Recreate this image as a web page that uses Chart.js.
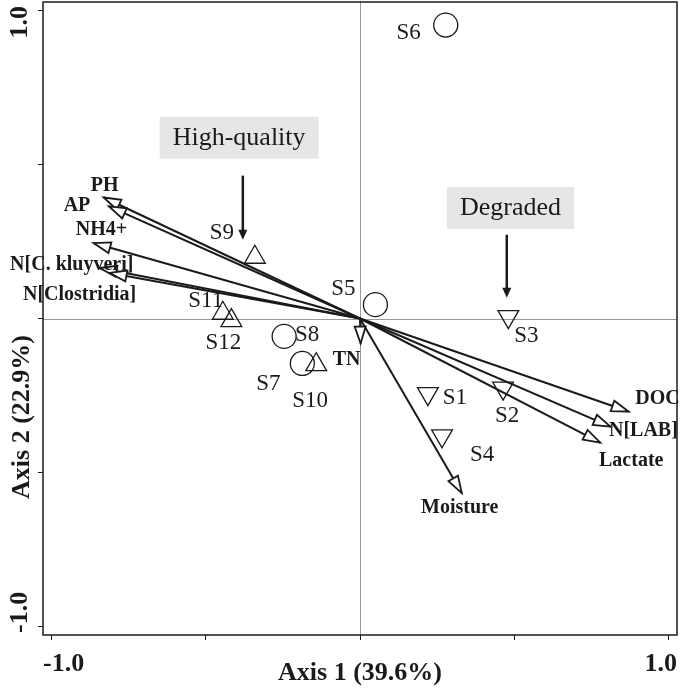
<!DOCTYPE html>
<html>
<head>
<meta charset="utf-8">
<script src="https://cdn.jsdelivr.net/npm/chart.js@4.4.0/dist/chart.umd.min.js"></script>
<style>
  html, body { margin: 0; padding: 0; background: #fff; }
  #wrap { width: 680px; height: 690px; }
</style>
</head>
<body>
<div id="wrap"><canvas id="chart" width="680" height="690"></canvas></div>
<script>
// sample scores on Axis 1 / Axis 2
const sampleNames = ['S1', 'S2', 'S3', 'S4', 'S5', 'S6', 'S7', 'S8', 'S9', 'S10', 'S11', 'S12'];
const sampleX = [0.220, 0.464, 0.481, 0.266, 0.050, 0.278, -0.187, -0.246, -0.341, -0.142, -0.445, -0.417];
const sampleY = [-0.244, -0.226, 0.006, -0.381, 0.045, 0.953, -0.146, -0.058, 0.199, -0.150, 0.017, -0.007];
const sampleGroup = ['deg', 'deg', 'deg', 'deg', 'mid', 'mid', 'mid', 'mid', 'hq', 'hq', 'hq', 'hq'];

// environmental variables (arrow tips)
const varNames = ['PH', 'AP', 'NH4+', 'N[C. kluyveri]', 'N[Clostridia]', 'TN', 'Moisture', 'DOC', 'N[LAB]', 'Lactate'];
const varX = [-0.831, -0.814, -0.864, -0.844, -0.812, 0.002, 0.330, 0.871, 0.812, 0.779];
const varY = [0.393, 0.364, 0.245, 0.164, 0.148, -0.081, -0.567, -0.302, -0.351, -0.403];

const tickValues = [-1, -0.5, 0, 0.5, 1];
const tickLabels = ['-1.0', '', '', '', '1.0'];
const axisTitles = ['Axis 1 (39.6%)', 'Axis 2 (22.9%)'];

// group callouts
const noteText = ['High-quality', 'Degraded'];
const noteX = [-0.392, 0.488];
const noteY = [0.587, 0.359];
const noteArrowX = [-0.380, 0.476];
const noteArrowFrom = [0.464, 0.272];
const noteArrowTo = [0.256, 0.067];

// label nudges in pixels, relative to the mark
const sampleLabelOffset = {
  S1: [27, 4], S2: [4, 28], S3: [18, 19], S4: [40, 19], S5: [-32, -16], S6: [-37, 8],
  S7: [-34, 21], S8: [23, -1], S9: [-33, -24], S10: [-6, 36], S11: [-17, -12], S12: [-8, 22]
};
const varLabelOffset = {
  'PH': [1, -12], 'AP': [-32, -1], 'NH4+': [8, -13], 'N[C. kluyveri]': [-28, -3],
  'N[Clostridia]': [-30, 22], 'TN': [-14, 16], 'Moisture': [-2, 15],
  'DOC': [29, -13], 'N[LAB]': [33, 4], 'Lactate': [31, 18]
};

const SERIF = '"Liberation Serif", "Times New Roman", serif';
const INK = '#1a1a1a';

const arrowSets = varNames.map((name, i) => ({
  label: name,
  isArrow: true,
  showLine: true,
  data: [{ x: 0, y: 0 }, { x: varX[i], y: varY[i] }],
  borderColor: INK,
  borderWidth: 2,
  pointRadius: 0
}));

function groupSet(group, style, rotation) {
  const idx = sampleNames.map((_, i) => i).filter(i => sampleGroup[i] === group);
  return {
    label: group,
    data: idx.map(i => ({ x: sampleX[i], y: sampleY[i], name: sampleNames[i] })),
    pointStyle: style,
    pointRotation: rotation,
    pointRadius: 12,
    pointBorderWidth: 1.3,
    pointBorderColor: INK,
    pointBackgroundColor: 'rgba(0,0,0,0)'
  };
}

const biplotDecor = {
  id: 'biplotDecor',
  beforeDatasetsDraw(chart) {
    const { ctx, chartArea: a, scales: { x, y } } = chart;
    ctx.save();
    // zero lines
    ctx.strokeStyle = '#9a9a9a';
    ctx.lineWidth = 1;
    const x0 = Math.round(x.getPixelForValue(0)) + 0.5;
    const y0 = Math.round(y.getPixelForValue(0)) + 0.5;
    ctx.beginPath();
    ctx.moveTo(x0, a.top); ctx.lineTo(x0, a.bottom);
    ctx.moveTo(a.left, y0); ctx.lineTo(a.right, y0);
    ctx.stroke();

    // callout boxes with arrows
    ctx.font = '26px ' + SERIF;
    noteText.forEach((t, i) => {
      const cx = x.getPixelForValue(noteX[i]);
      const cy = y.getPixelForValue(noteY[i]);
      const w = ctx.measureText(t).width + 26;
      const h = 42;
      ctx.fillStyle = '#e6e6e6';
      ctx.fillRect(cx - w / 2, cy - h / 2, w, h);
      ctx.fillStyle = INK;
      ctx.textAlign = 'center';
      ctx.textBaseline = 'middle';
      ctx.fillText(t, cx, cy);

      const ax = x.getPixelForValue(noteArrowX[i]);
      const ay1 = y.getPixelForValue(noteArrowFrom[i]);
      const ay2 = y.getPixelForValue(noteArrowTo[i]);
      ctx.strokeStyle = INK;
      ctx.lineWidth = 2.5;
      ctx.beginPath();
      ctx.moveTo(ax, ay1); ctx.lineTo(ax, ay2 - 6);
      ctx.stroke();
      ctx.beginPath();
      ctx.moveTo(ax, ay2);
      ctx.lineTo(ax - 4.5, ay2 - 10);
      ctx.lineTo(ax + 4.5, ay2 - 10);
      ctx.closePath();
      ctx.fill();
    });
    ctx.restore();
  },
  afterDatasetsDraw(chart) {
    const { ctx, data } = chart;
    ctx.save();
    // open arrow heads
    data.datasets.forEach((ds, i) => {
      if (!ds.isArrow) return;
      const pts = chart.getDatasetMeta(i).data;
      const p0 = pts[0], p1 = pts[1];
      const ang = Math.atan2(p1.y - p0.y, p1.x - p0.x);
      const L = 17, hw = 5.5;
      const bx = p1.x - L * Math.cos(ang), by = p1.y - L * Math.sin(ang);
      ctx.beginPath();
      ctx.moveTo(p1.x, p1.y);
      ctx.lineTo(bx - hw * Math.sin(ang), by + hw * Math.cos(ang));
      ctx.lineTo(bx + hw * Math.sin(ang), by - hw * Math.cos(ang));
      ctx.closePath();
      ctx.fillStyle = '#fff';
      ctx.fill();
      ctx.strokeStyle = INK;
      ctx.lineWidth = 1.8;
      ctx.stroke();

      const off = varLabelOffset[ds.label] || [0, 0];
      ctx.font = 'bold 20px ' + SERIF;
      ctx.fillStyle = INK;
      ctx.textAlign = 'center';
      ctx.textBaseline = 'middle';
      ctx.fillText(ds.label, p1.x + off[0], p1.y + off[1]);
    });

    // sample labels
    ctx.font = '23px ' + SERIF;
    ctx.fillStyle = INK;
    ctx.textAlign = 'center';
    ctx.textBaseline = 'middle';
    data.datasets.forEach((ds, i) => {
      if (ds.isArrow) return;
      const pts = chart.getDatasetMeta(i).data;
      ds.data.forEach((d, j) => {
        const off = sampleLabelOffset[d.name] || [0, 0];
        ctx.fillText(d.name, pts[j].x + off[0], pts[j].y + off[1]);
      });
    });
    ctx.restore();
  },
  afterDraw(chart) {
    const { ctx, chartArea: a, scales: { x, y } } = chart;
    ctx.save();
    ctx.strokeStyle = INK;
    ctx.lineWidth = 1.5;
    ctx.strokeRect(a.left, a.top, a.right - a.left, a.bottom - a.top);

    ctx.fillStyle = INK;
    ctx.font = 'bold 26px ' + SERIF;
    ctx.textBaseline = 'alphabetic';
    // x tick labels, pulled in to the plot edges
    tickValues.forEach((v, i) => {
      if (!tickLabels[i]) return;
      ctx.textAlign = v < 0 ? 'left' : 'right';
      ctx.fillText(tickLabels[i], v < 0 ? a.left : a.right, a.bottom + 36);
    });
    // y tick labels, rotated
    tickValues.forEach((v, i) => {
      if (!tickLabels[i]) return;
      ctx.save();
      ctx.translate(a.left - 16, v < 0 ? a.bottom - 2 : a.top + 4);
      ctx.rotate(-Math.PI / 2);
      ctx.textAlign = v < 0 ? 'left' : 'right';
      ctx.fillText(tickLabels[i], 0, 0);
      ctx.restore();
    });

    // axis titles
    ctx.textAlign = 'center';
    ctx.fillText(axisTitles[0], x.getPixelForValue(0), a.bottom + 45);
    ctx.save();
    ctx.translate(a.left - 14, y.getPixelForValue(-0.32));
    ctx.rotate(-Math.PI / 2);
    ctx.fillText(axisTitles[1], 0, 0);
    ctx.restore();
    ctx.restore();
  }
};

const axisCommon = {
  type: 'linear',
  min: -1.028,
  max: 1.028,
  afterBuildTicks: s => { s.ticks = tickValues.map(v => ({ value: v })); },
  ticks: { display: false },
  grid: { drawOnChartArea: false, drawTicks: true, tickLength: 5, color: INK, lineWidth: 1 },
  border: { display: false }
};

new Chart(document.getElementById('chart'), {
  type: 'scatter',
  data: {
    datasets: [
      ...arrowSets,
      groupSet('deg', 'triangle', 180),
      groupSet('mid', 'circle', 0),
      groupSet('hq', 'triangle', 0)
    ]
  },
  options: {
    responsive: false,
    animation: false,
    layout: { autoPadding: false, padding: { top: 2, right: 3, left: 0, bottom: 0 } },
    plugins: { legend: { display: false }, tooltip: { enabled: false } },
    scales: {
      x: { ...axisCommon, position: 'bottom', afterFit: s => { s.height = 55; } },
      y: { ...axisCommon, position: 'left', afterFit: s => { s.width = 43; } }
    }
  },
  plugins: [biplotDecor]
});
</script>
</body>
</html>
